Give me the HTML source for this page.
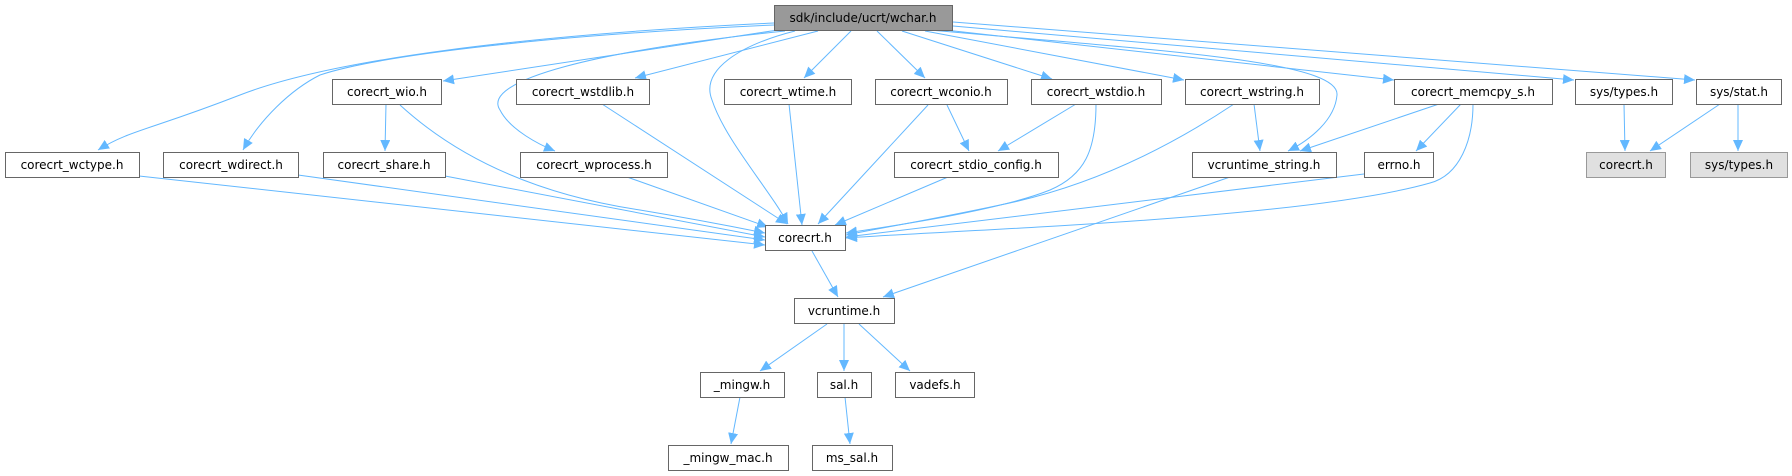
<!DOCTYPE html>
<html><head><meta charset="utf-8"><style>
html,body{margin:0;padding:0;background:#fff;}
svg{display:block;}
text{font-family:"DejaVu Sans","Liberation Sans",sans-serif;font-size:12px;fill:#000;text-anchor:middle;}
.n{fill:#fff;stroke:#666;stroke-width:1;}
.e{fill:none;stroke:#63b8ff;stroke-width:1;marker-end:url(#a);}
</style></head><body>
<svg width="1792" height="476" viewBox="0 0 1792 476" xmlns="http://www.w3.org/2000/svg">
<defs><marker id="a" markerUnits="userSpaceOnUse" markerWidth="12" markerHeight="10" refX="11" refY="5" orient="auto"><path d="M0,0 L11,5 L0,10 z" fill="#63b8ff"/></marker></defs>
<g>
<path class="e" d="M774,23 C520,35 330,60 240,95 S130,130 98,150"/>
<path class="e" d="M774,25 C550,35 380,55 320,75 C290,90 260,120 243,150"/>
<path class="e" d="M778,30 L443,81"/>
<path class="e" d="M818,31 L635,78"/>
<path class="e" d="M785,31 C600,50 480,80 500,110 C510,130 540,145 555,151"/>
<path class="e" d="M795,31 C740,45 700,70 712,100 C725,140 770,190 788,224"/>
<path class="e" d="M851,31 L804,78"/>
<path class="e" d="M877,31 L925,78"/>
<path class="e" d="M902,31 L1052,79"/>
<path class="e" d="M925,31 L1184,80"/>
<path class="e" d="M930,30 C1150,50 1340,60 1337,95 C1335,120 1310,140 1288,151"/>
<path class="e" d="M945,30 L1394,80"/>
<path class="e" d="M953,26 L1574,80"/>
<path class="e" d="M953,22 L1695,80"/>
<path class="e" d="M386,104 L385,151"/>
<path class="e" d="M400,105 C460,160 540,195 640,210 C700,220 740,228 765,233"/>
<path class="e" d="M139,176 L765,245"/>
<path class="e" d="M298,175 L765,240"/>
<path class="e" d="M445,176 L765,237"/>
<path class="e" d="M627,177 L768,227"/>
<path class="e" d="M602,104 L787,224"/>
<path class="e" d="M789,104 L802,225"/>
<path class="e" d="M928,105 L818,224"/>
<path class="e" d="M947,105 L969,151"/>
<path class="e" d="M1076,104 L998,151"/>
<path class="e" d="M1096,104 C1096,150 1085,175 1050,190 C1000,210 900,225 846,233"/>
<path class="e" d="M948,177 L835,225"/>
<path class="e" d="M1234,104 C1180,140 1100,185 1000,205 C930,220 880,228 846,235"/>
<path class="e" d="M1254,104 L1260,151"/>
<path class="e" d="M1439,104 L1300,151"/>
<path class="e" d="M1461,104 L1416,151"/>
<path class="e" d="M1473,104 C1473,140 1460,175 1430,183 C1300,220 950,230 846,238"/>
<path class="e" d="M1364,174 L846,237"/>
<path class="e" d="M1230,177 L883,297"/>
<path class="e" d="M1624,104 L1625,151"/>
<path class="e" d="M1720,104 L1650,151"/>
<path class="e" d="M1738,104 L1738,151"/>
<path class="e" d="M812,251 L838,297"/>
<path class="e" d="M827,324 L760,371"/>
<path class="e" d="M844,324 L844,371"/>
<path class="e" d="M859,324 L910,371"/>
<path class="e" d="M740,397 L731,444"/>
<path class="e" d="M845,397 L850,444"/>
</g>
<g>
<rect x="774.5" y="5.5" width="178" height="25" fill="#999" stroke="#666"/><text x="863" y="22">sdk/include/ucrt/wchar.h</text>

<rect class="n" x="332.5" y="79.5" width="109" height="25"/><text x="387" y="96">corecrt_wio.h</text>
<rect class="n" x="516.5" y="79.5" width="133" height="25"/><text x="583" y="96">corecrt_wstdlib.h</text>
<rect class="n" x="724.5" y="79.5" width="127" height="25"/><text x="788" y="96">corecrt_wtime.h</text>
<rect class="n" x="875.5" y="79.5" width="132" height="25"/><text x="941" y="96">corecrt_wconio.h</text>
<rect class="n" x="1031.5" y="79.5" width="130" height="25"/><text x="1096" y="96">corecrt_wstdio.h</text>
<rect class="n" x="1185.5" y="79.5" width="134" height="25"/><text x="1252" y="96">corecrt_wstring.h</text>
<rect class="n" x="1394.5" y="79.5" width="158" height="25"/><text x="1473" y="96">corecrt_memcpy_s.h</text>
<rect class="n" x="1575.5" y="79.5" width="97" height="25"/><text x="1624" y="96">sys/types.h</text>
<rect class="n" x="1696.5" y="79.5" width="85" height="25"/><text x="1739" y="96">sys/stat.h</text>

<rect class="n" x="5.5" y="152.5" width="134" height="25"/><text x="72" y="169">corecrt_wctype.h</text>
<rect class="n" x="163.5" y="152.5" width="135" height="25"/><text x="231" y="169">corecrt_wdirect.h</text>
<rect class="n" x="323.5" y="152.5" width="122" height="25"/><text x="384" y="169">corecrt_share.h</text>
<rect class="n" x="520.5" y="152.5" width="147" height="25"/><text x="594" y="169">corecrt_wprocess.h</text>
<rect class="n" x="894.5" y="152.5" width="164" height="25"/><text x="976" y="169">corecrt_stdio_config.h</text>
<rect class="n" x="1192.5" y="152.5" width="144" height="25"/><text x="1264" y="169">vcruntime_string.h</text>
<rect class="n" x="1364.5" y="152.5" width="69" height="25"/><text x="1399" y="169">errno.h</text>
<rect x="1586.5" y="152.5" width="79" height="25" fill="#e0e0e0" stroke="#999"/><text x="1626" y="169">corecrt.h</text>
<rect x="1690.5" y="152.5" width="97" height="25" fill="#e0e0e0" stroke="#999"/><text x="1739" y="169">sys/types.h</text>

<rect class="n" x="765.5" y="225.5" width="80" height="25"/><text x="805" y="242">corecrt.h</text>
<rect class="n" x="794.5" y="298.5" width="100" height="25"/><text x="844" y="315">vcruntime.h</text>
<rect class="n" x="700.5" y="372.5" width="84" height="25"/><text x="742" y="389">_mingw.h</text>
<rect class="n" x="817.5" y="372.5" width="54" height="25"/><text x="844" y="389">sal.h</text>
<rect class="n" x="895.5" y="372.5" width="79" height="25"/><text x="935" y="389">vadefs.h</text>
<rect class="n" x="668.5" y="445.5" width="120" height="25"/><text x="728" y="462">_mingw_mac.h</text>
<rect class="n" x="812.5" y="445.5" width="80" height="25"/><text x="852" y="462">ms_sal.h</text>
</g>
</svg>
</body></html>
